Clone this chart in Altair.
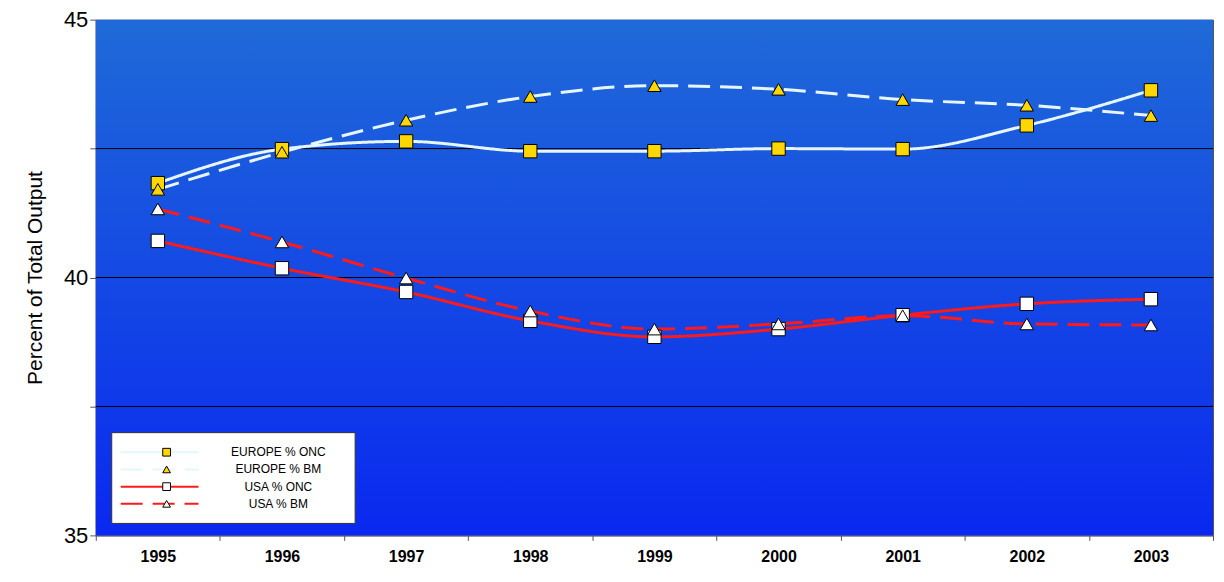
import altair as alt
import pandas as pd

years = ["1995","1996","1997","1998","1999","2000","2001","2002","2003"]
eu_onc = [41.83,42.49,42.64,42.45,42.45,42.50,42.49,42.95,43.63]
eu_bm  = [41.71,42.43,43.05,43.51,43.72,43.65,43.45,43.34,43.14]
us_onc = [40.71,40.18,39.72,39.16,38.85,39.00,39.27,39.49,39.58]
us_bm  = [41.33,40.69,39.99,39.35,39.00,39.10,39.26,39.10,39.08]
series = ["EUROPE % ONC","EUROPE % BM","USA % ONC","USA % BM"]
gridlines = [37.5, 40, 42.5]
line_colors = ["#e6f6ff","#e6f6ff","#ff1a1a","#ff1a1a"]
marker_fills = ["#ffd700","#ffd700","#ffffff","#ffffff"]
marker_shapes = ["square","triangle-up","square","triangle-up"]
dashes = [[1,0],[22,10],[1,0],[22,10]]

rows = []
for name, vals in zip(series, [eu_onc, eu_bm, us_onc, us_bm]):
    for y, v in zip(years, vals):
        rows.append({"year": y, "value": v, "series": name})
df = pd.DataFrame(rows)
legdf = pd.DataFrame({"series": series})

W, H = 1120, 517

x = alt.X("year:O", title=None, scale=alt.Scale(domain=years),
          axis=alt.Axis(labelAngle=0, labelFont="Liberation Sans", labelFontWeight="bold",
                        labelFontSize=16, labelColor="black", domainColor="#555", tickColor="#555",
                        tickBand="extent", labelPadding=8))
y = alt.Y("value:Q", title="Percent of Total Output",
          scale=alt.Scale(domain=[35, 45], nice=False, zero=False),
          axis=alt.Axis(values=[35, 37.5, 40, 42.5, 45], labelExpr="datum.value % 5 == 0 ? datum.value : ''",
                        labelFont="Liberation Sans", labelFontSize=22, labelColor="black",
                        titleFont="Liberation Sans", titleColor="black",
                        titleFontSize=21, titleFontWeight="normal", grid=False,
                        domainColor="#555", tickColor="#555", tickSize=6, titlePadding=18))

bg = alt.Chart(pd.DataFrame({"a": [0]})).mark_rect(
    color=alt.Gradient(gradient="linear", x1=0, y1=0, x2=0, y2=1,
                       stops=[alt.GradientStop(offset=0, color="#1f6ad8"),
                              alt.GradientStop(offset=1, color="#0a28f0")])
).encode(x=alt.value(0), x2=alt.value(W), y=alt.value(0), y2=alt.value(H))

grid = alt.Chart(pd.DataFrame({"value": gridlines})).mark_rule(color="black", strokeWidth=1).encode(y=y)

col = alt.Color("series:N", scale=alt.Scale(domain=series, range=line_colors), legend=None)
dash = alt.StrokeDash("series:N", scale=alt.Scale(domain=series, range=dashes), legend=None)
fill = alt.Fill("series:N", scale=alt.Scale(domain=series, range=marker_fills), legend=None)
shp = alt.Shape("series:N", scale=alt.Scale(domain=series, range=marker_shapes), legend=None)

lines = alt.Chart(df).mark_line(interpolate="monotone", strokeWidth=3).encode(
    x=x, y=y, color=col, strokeDash=dash)
pts = alt.Chart(df).mark_point(filled=True, size=180, stroke="black", strokeWidth=1, opacity=1).encode(
    x=x, y=y, fill=fill, shape=shp)
main = alt.layer(bg, grid, lines, pts)

ly = alt.Y("series:N", scale=alt.Scale(domain=series, range=[425, 494]), axis=None)
lbox = alt.Chart(pd.DataFrame({"a": [0]})).mark_rect(fill="white", stroke="#333", strokeWidth=1).encode(
    x=alt.value(16), x2=alt.value(260), y=alt.value(414), y2=alt.value(505))
lline = alt.Chart(legdf).mark_rule(strokeWidth=2).encode(
    x=alt.value(25), x2=alt.value(103), y=ly, color=col, strokeDash=dash)
lpt = alt.Chart(legdf).mark_point(filled=True, size=60, stroke="black", strokeWidth=1, opacity=1).encode(
    x=alt.value(71), y=ly, fill=fill, shape=shp)
ltxt = alt.Chart(legdf).mark_text(align="center", font="Liberation Sans", fontSize=12, color="black").encode(
    x=alt.value(183), y=ly, text="series:N")
legend = alt.layer(lbox, lline, lpt, ltxt)

chart = alt.layer(main, legend).resolve_scale(y="independent").properties(
    width=W, height=H, background="white", padding={"top": 0, "left": 16, "right": 2, "bottom": 5},
).configure_view(stroke="#555")
chart.save("out.html", embed_options={"renderer": "svg", "actions": False})
